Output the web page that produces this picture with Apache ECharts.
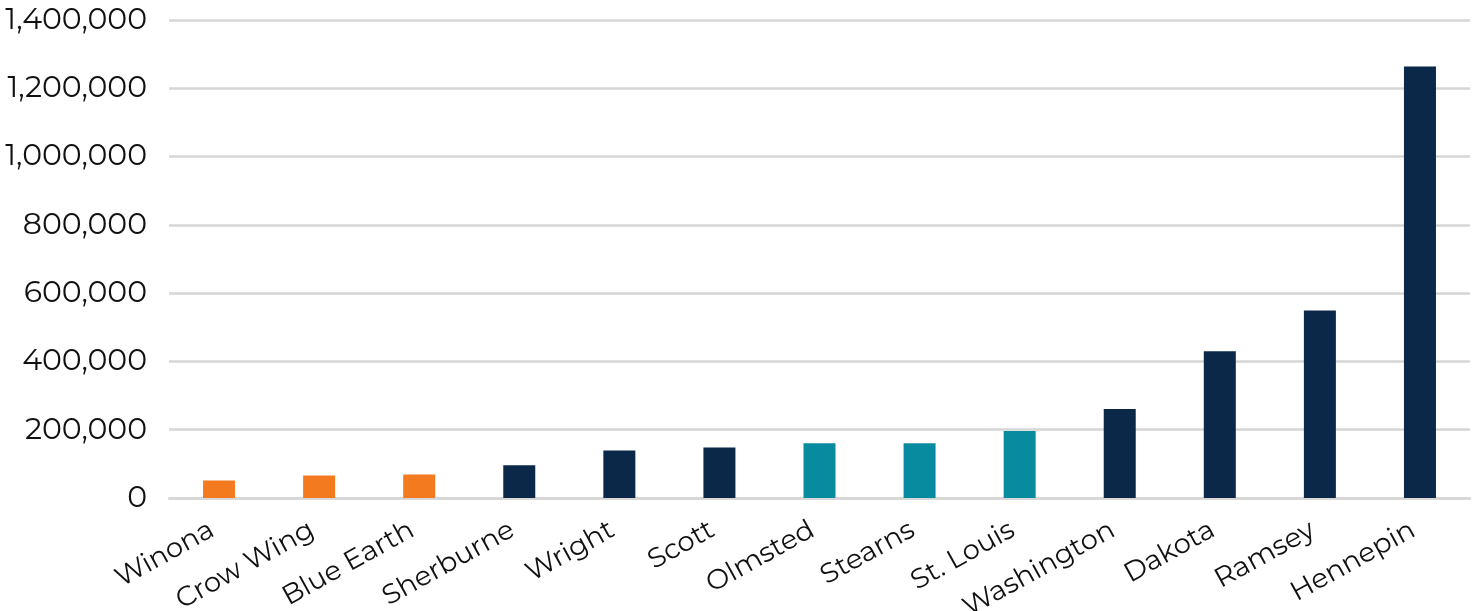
<!DOCTYPE html>
<html>
<head>
<meta charset="utf-8">
<script src="https://cdn.jsdelivr.net/npm/echarts@6/dist/echarts.min.js"></script>
<style>
html,body{margin:0;padding:0;background:#fff;}
#chart{width:1478px;height:611px;}
</style>
</head>
<body>
<div id="chart"></div>
<script>
const categories = ['Winona','Crow Wing','Blue Earth','Sherburne','Wright','Scott','Olmsted','Stearns','St. Louis','Washington','Dakota','Ramsey','Hennepin'];
const values = [51000, 66000, 69000, 96000, 139000, 148000, 160000, 160000, 196000, 261000, 430000, 549000, 1264000];
const groups = ['a','a','a','b','b','b','c','c','c','b','b','b','b'];
const yTicks = [0, 200000, 400000, 600000, 800000, 1000000, 1200000, 1400000];

const groupColors = { a: '#F47A20', b: '#0B2848', c: '#078B9F' };
const font = 'Montserrat, "Open Sans", sans-serif';

const chart = echarts.init(document.getElementById('chart'));
chart.setOption({
  animation: false,
  grid: { left: 169, right: 8, top: 20, bottom: 113, containLabel: false, outerBoundsMode: 'none' },
  xAxis: {
    type: 'category',
    data: categories,
    axisLine: { show: true, lineStyle: { color: '#d6d6d6', width: 2.5 } },
    axisTick: { show: false },
    axisLabel: {
      rotate: 29,
      margin: 26,
      padding: [0, 8, 0, 0],
      interval: 0,
      color: '#111',
      fontSize: 27.5,
      fontFamily: font
    }
  },
  yAxis: {
    type: 'value',
    min: yTicks[0],
    max: yTicks[yTicks.length - 1],
    interval: 200000,
    axisLine: { show: false },
    axisTick: { show: false },
    splitLine: { lineStyle: { color: '#d6d6d6', width: 2.5 } },
    axisLabel: {
      margin: 22,
      color: '#111',
      fontSize: 30,
      fontFamily: font,
      formatter: v => v.toLocaleString('en-US')
    }
  },
  series: [{
    type: 'bar',
    barWidth: 32,
    data: values.map((v, i) => ({ value: v, itemStyle: { color: groupColors[groups[i]] } }))
  }]
});
</script>
</body>
</html>
